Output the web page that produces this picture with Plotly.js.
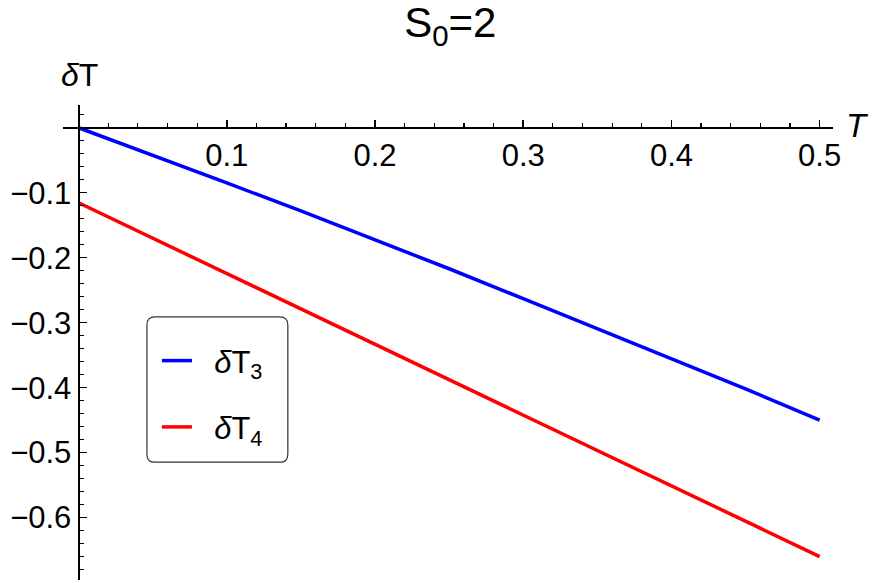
<!DOCTYPE html>
<html>
<head>
<meta charset="utf-8">
<script src="https://cdn.plot.ly/plotly-3.0.1.min.js"></script>
<style>html,body{margin:0;padding:0;background:#fff;}</style>
</head>
<body>
<div id="chart" style="width:872px;height:583px;"></div>
<script>
// Data
const T = [0, 0.05, 0.10, 0.15, 0.20, 0.25, 0.30, 0.35, 0.40, 0.45, 0.50];
const dT3 = [0, -0.042, -0.085, -0.128, -0.172, -0.217, -0.263, -0.309, -0.355, -0.402, -0.450];
const dT4 = [-0.1155, -0.170, -0.224, -0.279, -0.333, -0.388, -0.442, -0.497, -0.551, -0.606, -0.660];
const seriesNames = ['\u00a0\u00a0<i>δ</i>T<sub>3</sub>', '\u00a0\u00a0<i>δ</i>T<sub>4</sub>'];
const xTickVals = [0.1, 0.2, 0.3, 0.4, 0.5];
const xTickText = ['0.1', '0.2', '0.3', '0.4', '0.5'];
const yTickVals = [-0.1, -0.2, -0.3, -0.4, -0.5, -0.6];
const yTickText = ['\u22120.1', '\u22120.2', '\u22120.3', '\u22120.4', '\u22120.5', '\u22120.6'];

const FONT = 'Liberation Sans, Arial, sans-serif';
const xRange = [-0.0105, 0.509];
const yRange = [-0.696, 0.035];

const traces = [
  {x: T, y: dT3, mode: 'lines', name: seriesNames[0], legendgroup: 'a',
   line: {color: '#0000ff', width: 3.5}},
  {x: T, y: dT4, mode: 'lines', name: seriesNames[1], legendgroup: 'b',
   line: {color: '#ff0000', width: 3.5}}
];

const layout = {
  width: 872, height: 583, autosize: false,
  margin: {l: 63, r: 39, t: 105, b: 3, pad: 0},
  paper_bgcolor: '#ffffff', plot_bgcolor: '#ffffff',
  font: {family: FONT, color: '#000'},
  title: {text: 'S<sub>0</sub>=2', font: {size: 42, family: FONT, color: '#000'},
          x: 0.503, xanchor: 'center', y: 0.962, yanchor: 'middle', xref: 'paper', yref: 'container'},
  xaxis: {
    range: xRange, anchor: 'free', position: (0 - yRange[0]) / (yRange[1] - yRange[0]),
    showline: true, linecolor: '#000', linewidth: 2,
    showgrid: false, zeroline: false,
    ticks: 'inside', ticklen: 7, tickwidth: 1.5, tickcolor: '#000',
    tickmode: 'array', tickvals: xTickVals, ticktext: xTickText,
    tickfont: {size: 31, family: FONT, color: '#000'},
    ticklabelstandoff: 0,
    minor: {ticks: 'inside', tickmode: 'linear', tick0: 0, dtick: 0.02, ticklen: 4, tickwidth: 1.2, tickcolor: '#000', showgrid: false}
  },
  yaxis: {
    range: yRange, anchor: 'free', position: (0 - xRange[0]) / (xRange[1] - xRange[0]),
    showline: true, linecolor: '#000', linewidth: 2,
    showgrid: false, zeroline: false,
    ticks: 'inside', ticklen: 7, tickwidth: 1.5, tickcolor: '#000',
    tickmode: 'array', tickvals: yTickVals, ticktext: yTickText,
    tickfont: {size: 31, family: FONT, color: '#000'},
    ticklabelstandoff: 0,
    minor: {ticks: 'inside', tickmode: 'linear', tick0: 0, dtick: 0.02, ticklen: 4, tickwidth: 1.2, tickcolor: '#000', showgrid: false}
  },
  showlegend: true,
  legend: {
    x: 0.122, y: 0.518, xanchor: 'left', yanchor: 'top',
    bgcolor: 'rgba(0,0,0,0)', borderwidth: 0,
    font: {size: 31, family: FONT, color: '#000'},
    traceorder: 'grouped', tracegroupgap: 23
  },
  shapes: [
    {type: 'path', xref: 'paper', yref: 'paper',
     path: 'M 0.1195 0.554 L 0.2815 0.554 Q 0.292 0.554 0.292 0.537 L 0.292 0.265 Q 0.292 0.248 0.2815 0.248 L 0.1195 0.248 Q 0.109 0.248 0.109 0.265 L 0.109 0.537 Q 0.109 0.554 0.1195 0.554 Z',
     line: {color: '#333', width: 1.2}, fillcolor: 'rgba(255,255,255,0.9)', layer: 'below'}
  ],
  annotations: [
    {text: '<i>δ</i>T', xref: 'paper', yref: 'paper', x: -0.005, y: 1.063,
     xanchor: 'left', yanchor: 'middle', showarrow: false,
     font: {size: 32, family: FONT, color: '#000'}},
    {text: '<i>T</i>', xref: 'paper', yref: 'paper', x: 1.032, y: 0.956,
     xanchor: 'center', yanchor: 'middle', showarrow: false,
     font: {size: 33, family: FONT, color: '#000'}}
  ]
};

Plotly.newPlot('chart', traces, layout, {staticPlot: true, displayModeBar: false});
</script>
</body>
</html>
